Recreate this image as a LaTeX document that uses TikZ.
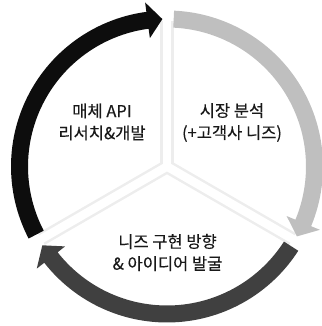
\documentclass[tikz,border=0pt]{standalone}
\usepackage{fontspec}
\setmainfont{Noto Sans CJK KR}[FakeBold=0.3]

\definecolor{arrowblack}{HTML}{0D0D0D}
\definecolor{arrowlight}{HTML}{BFBFBF}
\definecolor{arrowdark}{HTML}{404040}
\definecolor{divline}{HTML}{EDEDED}

% one arrow of the ring: colour, tail angle, tip angle (clockwise)
\newcommand{\ringarrow}[3]{%
    \pgfmathsetmacro{\headbase}{#3+5.8}
    \fill[#1](#2:139)arc[start angle=#2,end angle=\headbase,radius=139]
        --(\headbase:129.5)--(#3:147.5)--(\headbase:165.5)
        --(\headbase:156)arc[start angle=\headbase,end angle=#2,radius=156]--cycle;
}

\begin{document}
\begin{tikzpicture}[x=1pt,y=1pt,
    steptext/.style={align=center,font=\fontsize{16.5}{22}\selectfont,text=black!90}]
    \useasboundingbox (0,0) rectangle (321,326);

    \begin{scope}[shift={(167,159.5)}]
        % dividers between the three parts
        \foreach \a in {90,210,330}
            \draw[divline,line width=13.5](0,0)--(\a:145);
        \foreach \a in {90,210,330}
            \draw[white,line width=8.5](0,0)--(\a:146);

        \ringarrow{arrowblack}{207.5}{91.8}
        \ringarrow{arrowlight}{87.4}{-28.3}
        \ringarrow{arrowdark}{327.3}{212.3}
    \end{scope}

    \node[steptext](research) at (102,204){매체 API\\리서치\&개발};
    \node[steptext](market) at (232,203.5){시장 분석\\(+고객사 니즈)};
    \node[steptext](idea) at (167.5,73.5){니즈 구현 방향\\\& 아이디어 발굴};
\end{tikzpicture}
\end{document}
